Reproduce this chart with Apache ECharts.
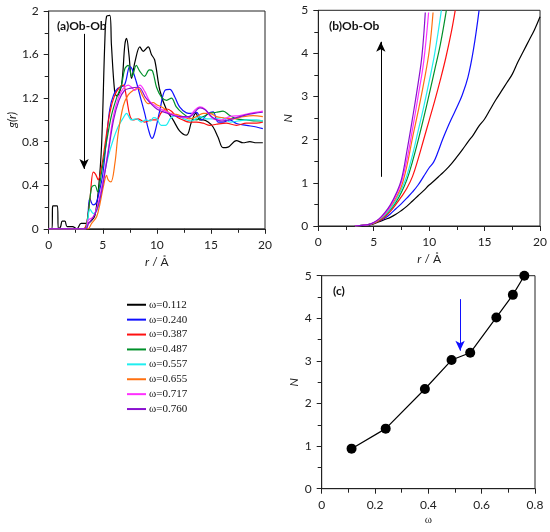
<!DOCTYPE html>
<html>
<head>
<meta charset="utf-8">
<script src="https://cdn.jsdelivr.net/npm/echarts@6/dist/echarts.min.js"></script>
<style>
  html, body { margin: 0; padding: 0; background: #fff; }
  #chart { width: 550px; height: 532px; }
</style>
</head>
<body>
<div id="chart"></div>
<script>
// composition values (omega) and legend names
var omega = [0.112, 0.240, 0.387, 0.487, 0.557, 0.655, 0.717, 0.760];
var names = ['ω=0.112', 'ω=0.240', 'ω=0.387', 'ω=0.487', 'ω=0.557', 'ω=0.655', 'ω=0.717', 'ω=0.760'];
var colors = ['#000000', '#1010ff', '#ff1010', '#00902a', '#20eef0', '#ff7010', '#ff30ff', '#8a10d0'];

// (a) g(r) curves, [r, g]
var g112 = [[0, 0], [0.3, 0], [0.38, 0.21], [0.8, 0.21], [0.9, 0], [1.1, 0.02], [1.25, 0.07], [1.5, 0.07], [1.7, 0.02], [2.2, 0.02], [2.6, 0], [3.0, 0.05], [3.6, 0.05], [4.0, 0.08], [4.27, 0.12], [4.58, 0.34], [4.89, 0.77], [5.2, 1.75], [5.35, 1.95], [5.65, 1.96], [5.8, 1.69], [6.1, 1.26], [6.3, 1.22], [6.73, 1.32], [7.04, 1.69], [7.2, 1.75], [7.42, 1.6], [7.66, 1.38], [7.97, 1.53], [8.43, 1.67], [8.74, 1.63], [9.2, 1.67], [9.5, 1.6], [9.8, 1.55], [10.28, 1.27], [10.9, 1.09], [11.5, 1.0], [12.1, 0.9], [12.74, 0.86], [13.2, 0.98], [13.6, 1.06], [13.97, 1.0], [14.28, 1.0], [14.74, 0.98], [15.2, 0.935], [15.66, 0.84], [16.12, 0.745], [16.58, 0.75], [17.36, 0.81], [17.97, 0.79], [18.6, 0.8], [19.2, 0.79], [19.8, 0.79]];
var g240 = [[0, 0], [3.4, 0], [3.6, 0.1], [3.8, 0.28], [4.1, 0.22], [4.4, 0.24], [4.7, 0.35], [5.0, 0.5], [5.35, 0.83], [5.65, 1.1], [6.0, 1.23], [6.4, 1.29], [7.0, 1.32], [7.5, 1.49], [7.7, 1.47], [8.1, 1.35], [8.5, 1.2], [8.9, 1.05], [9.2, 0.92], [9.55, 0.83], [9.8, 0.88], [10.28, 1.09], [10.74, 1.27], [11.2, 1.28], [11.66, 1.21], [12.1, 1.12], [12.74, 1.065], [13.2, 1.06], [13.67, 1.07], [14.13, 1.0], [14.74, 1.06], [15.2, 1.075], [15.66, 0.98], [16.12, 0.98], [16.74, 1.0], [17.36, 0.967], [18.28, 0.95], [19.2, 0.935], [19.8, 0.92]];
var g387 = [[0, 0], [3.2, 0], [3.5, 0.05], [3.81, 0.27], [4.12, 0.52], [4.34, 0.5], [4.58, 0.45], [4.89, 0.57], [5.2, 0.77], [5.66, 1.07], [6.12, 1.23], [6.58, 1.3], [6.9, 1.32], [7.2, 1.2], [7.5, 1.04], [7.8, 1.0], [8.27, 1.01], [8.89, 0.98], [9.5, 1.0], [9.97, 1.0], [10.43, 1.07], [10.9, 1.1], [11.35, 1.08], [11.8, 1.03], [12.4, 1.0], [13.0, 0.98], [13.67, 0.98], [14.28, 0.97], [14.9, 0.95], [15.5, 0.96], [16.4, 0.97], [17.36, 0.95], [18.28, 0.97], [19.2, 0.97], [19.8, 0.98]];
var g487 = [[0, 0], [3.3, 0], [3.6, 0.1], [3.97, 0.38], [4.27, 0.4], [4.52, 0.34], [4.89, 0.52], [5.35, 0.8], [5.8, 1.04], [6.27, 1.2], [6.73, 1.32], [7.04, 1.47], [7.35, 1.5], [7.7, 1.4], [8.1, 1.5], [8.4, 1.45], [8.86, 1.4], [9.3, 1.46], [9.6, 1.45], [9.97, 1.3], [10.43, 1.21], [10.9, 1.18], [11.35, 1.2], [11.8, 1.12], [12.4, 1.06], [13.0, 1.02], [13.67, 1.0], [14.28, 1.03], [14.9, 1.06], [15.5, 1.07], [16.12, 1.08], [16.74, 1.04], [17.36, 1.01], [18.28, 1.0], [19.2, 0.99], [19.8, 0.99]];
var g557 = [[0, 0], [3.4, 0], [3.6, 0.08], [3.81, 0.18], [4.12, 0.14], [4.58, 0.2], [5.04, 0.45], [5.5, 0.66], [5.97, 0.82], [6.43, 0.94], [6.9, 1.02], [7.2, 1.06], [7.66, 1.0], [8.1, 1.01], [8.55, 0.98], [9.0, 1.0], [9.4, 0.99], [9.7, 1.02], [10.0, 1.01], [10.4, 0.95], [10.8, 0.95], [11.3, 1.02], [11.8, 1.04], [12.5, 1.01], [13.2, 0.99], [14.0, 1.03], [14.6, 1.01], [15.3, 1.01], [16.0, 1.02], [16.8, 0.98], [17.5, 0.99], [18.3, 1.0], [19.2, 1.0], [19.8, 0.99]];
var g655 = [[0, 0], [3.6, 0], [3.97, 0.05], [4.43, 0.11], [4.74, 0.23], [5.04, 0.38], [5.35, 0.49], [5.5, 0.45], [5.75, 0.43], [6.12, 0.6], [6.43, 0.88], [6.9, 1.13], [7.35, 1.23], [7.8, 1.27], [8.27, 1.29], [8.74, 1.21], [9.2, 1.15], [9.66, 1.16], [9.97, 1.14], [10.6, 1.11], [11.2, 1.06], [11.8, 1.05], [12.4, 1.03], [13.0, 1.01], [13.67, 1.03], [14.28, 1.06], [14.9, 1.06], [15.5, 1.03], [16.12, 1.02], [17.05, 1.01], [17.97, 1.03], [18.9, 1.04], [19.8, 1.03]];
var g717 = [[0, 0], [3.4, 0], [3.66, 0.08], [4.12, 0.11], [4.58, 0.24], [5.04, 0.45], [5.5, 0.72], [5.97, 1.03], [6.43, 1.2], [6.9, 1.29], [7.35, 1.32], [7.66, 1.3], [7.97, 1.27], [8.43, 1.32], [8.89, 1.26], [9.35, 1.17], [9.97, 1.12], [10.6, 1.09], [11.2, 1.06], [11.8, 1.04], [12.4, 1.02], [13.0, 1.03], [13.5, 1.09], [13.97, 1.12], [14.43, 1.1], [14.9, 1.04], [15.5, 1.0], [15.97, 1.0], [16.74, 1.03], [17.67, 1.04], [18.6, 1.06], [19.8, 1.08]];
var g760 = [[0, 0], [3.4, 0], [3.7, 0.05], [4.2, 0.12], [4.6, 0.22], [5.0, 0.4], [5.5, 0.7], [6.0, 1.0], [6.5, 1.18], [7.0, 1.27], [7.5, 1.29], [8.3, 1.3], [9.0, 1.2], [10.0, 1.1], [11.0, 1.06], [12.0, 1.03], [13.0, 1.03], [14.0, 1.11], [14.5, 1.09], [15.2, 1.02], [16.0, 0.99], [17.0, 1.01], [18.0, 1.04], [19.0, 1.06], [19.8, 1.07]];

// (b) running coordination number N(r), [r, N]
var n112 = [[3.3, 0], [4.5, 0.02], [5, 0.05], [5.5, 0.1], [6, 0.15], [6.5, 0.2], [7, 0.27], [7.5, 0.36], [8, 0.46], [8.5, 0.58], [9, 0.7], [9.5, 0.82], [10, 0.95], [10.5, 1.06], [11, 1.18], [11.5, 1.3], [12, 1.44], [12.5, 1.6], [13, 1.77], [13.5, 1.95], [14, 2.12], [14.5, 2.32], [15, 2.48], [15.5, 2.7], [16, 2.92], [16.5, 3.12], [17, 3.32], [17.5, 3.52], [18, 3.8], [18.5, 4.05], [19, 4.3], [19.5, 4.55], [20, 4.85]];
var n240 = [[3.3, 0], [4.5, 0.03], [5, 0.07], [5.5, 0.12], [6, 0.18], [6.5, 0.28], [7, 0.4], [7.5, 0.52], [8, 0.65], [8.5, 0.79], [9, 0.95], [9.5, 1.15], [10, 1.35], [10.4, 1.48], [10.8, 1.72], [11.2, 2.0], [11.6, 2.25], [12, 2.48], [12.5, 2.75], [13, 3.05], [13.5, 3.45], [14, 4.1], [14.5, 5.0]];
var n387 = [[3.3, 0], [4.5, 0.03], [5, 0.06], [5.5, 0.12], [6, 0.21], [6.5, 0.34], [7, 0.5], [7.5, 0.68], [8, 0.88], [8.5, 1.15], [9, 1.55], [9.5, 2.0], [10, 2.45], [10.5, 2.9], [11, 3.38], [11.5, 3.9], [12, 4.5], [12.35, 5.0]];
var n487 = [[3.3, 0], [4.5, 0.03], [5, 0.07], [5.5, 0.14], [6, 0.24], [6.5, 0.38], [7, 0.55], [7.5, 0.78], [8, 1.08], [8.5, 1.5], [9, 1.98], [9.5, 2.5], [10, 3.05], [10.5, 3.62], [11, 4.2], [11.55, 5.0]];
var n557 = [[3.3, 0], [4.5, 0.03], [5, 0.07], [5.5, 0.15], [6, 0.26], [6.5, 0.4], [7, 0.6], [7.5, 0.85], [8, 1.18], [8.5, 1.65], [9, 2.2], [9.5, 2.75], [10, 3.35], [10.5, 4.0], [11.1, 5.0]];
var n655 = [[3.3, 0], [4.5, 0.03], [5, 0.07], [5.5, 0.15], [6, 0.28], [6.5, 0.44], [7, 0.65], [7.5, 0.92], [8, 1.4], [8.5, 2.05], [9, 2.65], [9.5, 3.3], [10, 4.05], [10.35, 4.95]];
var n717 = [[3.3, 0], [4.5, 0.03], [5, 0.08], [5.5, 0.16], [6, 0.29], [6.5, 0.46], [7, 0.7], [7.5, 1.02], [8, 1.55], [8.5, 2.25], [9, 3.0], [9.5, 3.8], [9.95, 4.95]];
var n760 = [[3.3, 0], [4.5, 0.03], [5, 0.08], [5.5, 0.17], [6, 0.31], [6.5, 0.49], [7, 0.74], [7.5, 1.08], [8, 1.75], [8.5, 2.5], [9, 3.3], [9.35, 3.95], [9.65, 4.95]];

// (c) N at the first minimum vs omega
var nFirst = [0.94, 1.41, 2.34, 3.02, 3.19, 4.02, 4.55, 5.0];

var gData = [g112, g240, g387, g487, g557, g655, g717, g760];
var nData = [n112, n240, n387, n487, n557, n655, n717, n760];

var axisColor = '#222';
var labelFont = { color: '#222', fontSize: 12, fontFamily: 'Lato' };

function makeAxis(grid, min, max, interval, extra) {
    var ax = {
        type: 'value', gridIndex: grid, min: min, max: max, interval: interval,
        axisLine: { show: true, onZero: false, lineStyle: { color: axisColor, width: 1 } },
        axisTick: { show: true, inside: false, length: 5, lineStyle: { color: axisColor } },
        minorTick: { show: true, splitNumber: 2, length: 4, lineStyle: { color: axisColor } },
        axisLabel: Object.assign({ margin: 10 }, labelFont),
        splitLine: { show: false },
        nameLocation: 'middle',
        nameTextStyle: { color: '#222', fontSize: 12, fontFamily: 'Lato',
            rich: { i: { fontStyle: 'italic', fontSize: 12, fontFamily: 'Lato', color: '#222' } } }
    };
    return Object.assign(ax, extra || {});
}

var series = [];
for (var i = 0; i < 8; i++) {
    series.push({
        name: names[i], type: 'line', xAxisIndex: 0, yAxisIndex: 0,
        data: gData[i], smooth: 0.35, showSymbol: false, color: colors[i],
        lineStyle: { width: 1.2 }
    });
    series.push({
        name: names[i], type: 'line', xAxisIndex: 1, yAxisIndex: 1,
        data: nData[i], smooth: 0.4, showSymbol: false, color: colors[i],
        lineStyle: { width: 1.2 }
    });
}
// arrows
series[0].markLine = {
    silent: true, symbol: ['none', 'arrow'], symbolSize: [7, 10], label: { show: false },
    lineStyle: { color: '#000', type: 'solid', width: 1 },
    data: [[{ coord: [3.27, 1.79] }, { coord: [3.27, 0.55] }]]
};
series[1].markLine = {
    silent: true, symbol: ['none', 'arrow'], symbolSize: [7, 10], label: { show: false },
    lineStyle: { color: '#000', type: 'solid', width: 1 },
    data: [[{ coord: [5.64, 1.14] }, { coord: [5.64, 4.27] }]]
};
series.push({
    type: 'line', xAxisIndex: 2, yAxisIndex: 2,
    data: omega.map(function (w, k) { return [w, nFirst[k]]; }),
    symbol: 'circle', symbolSize: 10, color: '#000',
    lineStyle: { width: 1.2, color: '#000' },
    markLine: {
        silent: true, symbol: ['none', 'arrow'], symbolSize: [7, 10], label: { show: false },
        lineStyle: { color: '#1010ff', type: 'solid', width: 1 },
        data: [[{ coord: [0.519, 4.45] }, { coord: [0.519, 3.24] }]]
    }
});

var option = {
    animation: false,
    backgroundColor: '#fff',
    title: [
        { text: '(a)Ob-Ob', left: 52, top: 15, textStyle: { fontSize: 12, fontWeight: 'bold', fontFamily: 'Lato', color: '#111' } },
        { text: '(b)Ob-Ob', left: 324, top: 15, textStyle: { fontSize: 12, fontWeight: 'bold', fontFamily: 'Lato', color: '#111' } },
        { text: '(c)', left: 328, top: 280, textStyle: { fontSize: 12, fontWeight: 'bold', fontFamily: 'Lato', color: '#111' } }
    ],
    legend: {
        data: names, orient: 'vertical', left: 122, top: 293,
        icon: 'rect', itemWidth: 19, itemHeight: 2, itemGap: 1.4, selectedMode: false,
        textStyle: { fontSize: 11, fontFamily: 'Liberation Serif', color: '#111', lineHeight: 13.5, padding: [0, 0, 0, -2] }
    },
    grid: [
        { left: 48.7, top: 11, width: 216.3, height: 217.8, show: true, borderColor: axisColor, borderWidth: 1 },
        { left: 318.3, top: 10.3, width: 222.4, height: 215.7, show: true, borderColor: axisColor, borderWidth: 1 },
        { left: 321.7, top: 275.7, width: 213.3, height: 213, show: true, borderColor: axisColor, borderWidth: 1 }
    ],
    xAxis: [
        makeAxis(0, 0, 20, 5, { name: '{i|r} / Å', nameGap: 27 }),
        makeAxis(1, 0, 20, 5, { name: '{i|r} / Å', nameGap: 27 }),
        makeAxis(2, 0, 0.8, 0.2, { name: 'ω', nameGap: 26,
            nameTextStyle: { color: '#222', fontSize: 11, fontFamily: 'Liberation Serif' } })
    ],
    yAxis: [
        makeAxis(0, 0, 2, 0.4, { name: '{i|g(r)}', nameGap: 30 }),
        makeAxis(1, 0, 5, 1, { name: '{i|N}', nameGap: 24 }),
        makeAxis(2, 0, 5, 1, { name: '{i|N}', nameGap: 22 })
    ],
    series: series
};

var myChart = echarts.init(document.getElementById('chart'));
myChart.setOption(option);
</script>
</body>
</html>
